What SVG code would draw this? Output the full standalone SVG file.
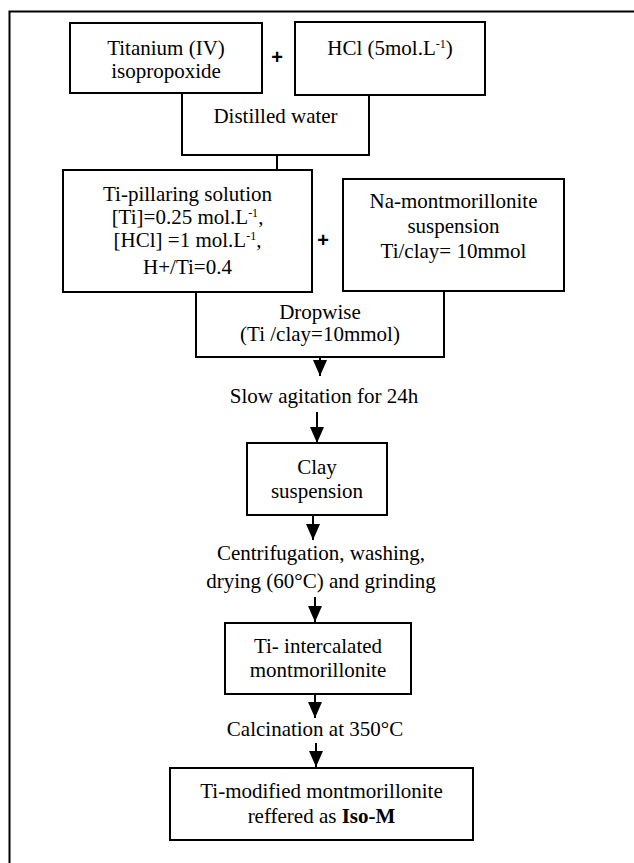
<svg xmlns="http://www.w3.org/2000/svg" width="634" height="863" viewBox="0 0 634 863">
<style>
  text { font-family: "Liberation Serif", "Times New Roman", serif; font-size: 21px; fill: #000; text-anchor: middle; }
  .box { fill: #fff; stroke: #000; stroke-width: 2; }
  .ln { fill: none; stroke: #000; stroke-width: 2; }
  .plus { font-family: "Liberation Sans", Arial, sans-serif; font-weight: bold; font-size: 20px; }
  .sup { font-size: 12px; }
</style>
<defs>
  <marker id="arr" markerUnits="userSpaceOnUse" markerWidth="16" markerHeight="14" refX="16" refY="7" orient="auto" viewBox="0 0 16 14">
    <path d="M0,0 L16,7 L0,14 z" fill="#000"/>
  </marker>
</defs>
<rect width="634" height="863" fill="#fff"/>
<path id="frame" class="ln" d="M634 11.5 H9.5 V863"/>

<g id="connectors">
  <path class="ln" d="M182 93 V155 H369 V95"/>
  <path class="ln" d="M277 155 V170"/>
  <path class="ln" d="M196 292 V357 H444 V291"/>
  <path class="ln" d="M320 357 V376" marker-end="url(#arr)"/>
  <path class="ln" d="M317 412 V443" marker-end="url(#arr)"/>
  <path class="ln" d="M313 515 V540" marker-end="url(#arr)"/>
  <path class="ln" d="M315 597 V622" marker-end="url(#arr)"/>
  <path class="ln" d="M315 694 V718" marker-end="url(#arr)"/>
  <path class="ln" d="M316 743 V767" marker-end="url(#arr)"/>
  <text class="plus" x="277" y="64">+</text>
  <text class="plus" x="323" y="247">+</text>
</g>

<g id="titanium">
  <rect class="box" x="70" y="23" width="192" height="70"/>
  <text x="166" y="55">Titanium (IV)</text>
  <text x="166" y="78">isopropoxide</text>
</g>

<g id="hcl">
  <rect class="box" x="295" y="22" width="190" height="73"/>
  <text x="390" y="55">HCl (5mol.L<tspan class="sup" dy="-7">-1</tspan><tspan dy="7">)</tspan></text>
</g>

<g id="distilled">
  <text x="275.5" y="123">Distilled water</text>
</g>

<g id="ti-pillaring">
  <rect class="box" x="63" y="170" width="249" height="122"/>
  <text x="187.5" y="201">Ti-pillaring solution</text>
  <text x="187.5" y="224">[Ti]=0.25 mol.L<tspan class="sup" dy="-7">-1</tspan><tspan dy="7">,</tspan></text>
  <text x="187.5" y="247">[HCl] =1 mol.L<tspan class="sup" dy="-7">-1</tspan><tspan dy="7">,</tspan></text>
  <text x="187.5" y="274">H+/Ti=0.4</text>
</g>

<g id="na-mont">
  <rect class="box" x="343" y="179" width="221" height="112"/>
  <text x="453.5" y="208">Na-montmorillonite</text>
  <text x="453.5" y="233">suspension</text>
  <text x="453.5" y="258">Ti/clay= 10mmol</text>
</g>

<g id="dropwise">
  <text x="320" y="319">Dropwise</text>
  <text x="320" y="341">(Ti /clay=10mmol)</text>
</g>

<g id="agitation">
  <text x="324" y="403">Slow agitation for 24h</text>
</g>

<g id="clay">
  <rect class="box" x="247" y="443" width="140" height="72"/>
  <text x="317" y="474">Clay</text>
  <text x="317" y="498">suspension</text>
</g>

<g id="centrifugation">
  <text x="321" y="560">Centrifugation, washing,</text>
  <text x="321" y="588">drying (60°C) and grinding</text>
</g>

<g id="intercalated">
  <rect class="box" x="225" y="623" width="186" height="71"/>
  <text x="318" y="653">Ti- intercalated</text>
  <text x="318" y="677">montmorillonite</text>
</g>

<g id="calcination">
  <text x="315" y="736">Calcination at 350°C</text>
</g>

<g id="final">
  <rect class="box" x="170" y="768" width="303" height="72"/>
  <text x="321.5" y="798">Ti-modified montmorillonite</text>
  <text x="321.5" y="823">reffered as <tspan font-weight="bold">Iso-M</tspan></text>
</g>
</svg>
